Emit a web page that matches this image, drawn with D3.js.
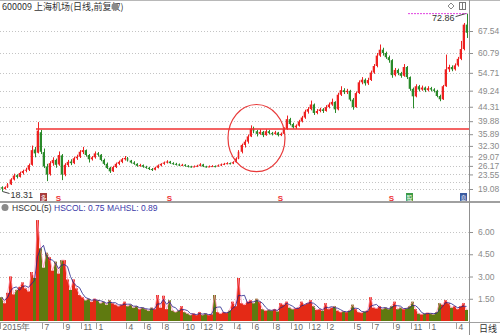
<!DOCTYPE html>
<html>
<head>
<meta charset="utf-8">
<script src="https://cdn.jsdelivr.net/npm/d3@7"></script>
<style>
  body { margin: 0; background: #fff; }
  svg { display: block; font-family: "Liberation Sans", Arial, "Noto Sans CJK SC", sans-serif; }
</style>
</head>
<body>
<svg width="500" height="335"></svg>
<script>
// price bars, [open, high, low, close]
const candles = [
  [19.6,19.9,18.31,19.2],[19.1,19.9,18.9,19.6],[19.6,20.9,19.4,20.5],[20.5,22.4,20.3,22.0],
  [22.0,23.8,21.7,23.2],[23.3,23.6,22.3,22.8],[22.8,24.4,22.6,24.0],[24.0,25.0,23.5,24.6],
  [24.7,25.6,24.2,25.0],[25.0,26.9,24.6,26.4],[26.5,32.4,26.2,31.0],[31.2,32.0,28.8,30.0],
  [30.2,39.6,30.0,37.0],[36.5,37.2,29.8,30.5],[30.4,31.5,25.5,26.0],[26.0,26.8,21.5,23.5],
  [23.6,27.6,23.2,27.0],[27.0,28.8,26.2,28.0],[28.0,28.4,25.6,26.5],[26.6,30.6,26.2,29.5],
  [29.4,29.8,21.8,23.5],[23.5,27.0,23.0,26.5],[26.4,28.0,25.8,27.4],[27.5,28.2,26.4,27.0],
  [27.0,29.0,26.7,28.5],[28.5,29.6,28.0,29.0],[29.0,31.0,28.6,30.5],[30.4,32.0,29.8,31.0],
  [31.0,31.2,29.0,29.5],[29.5,29.8,27.2,28.2],[28.2,29.2,27.8,28.8],[28.8,30.6,28.4,30.0],
  [30.0,30.4,29.0,29.6],[29.6,29.8,27.6,28.0],[28.0,28.4,26.4,26.8],[26.8,27.2,25.2,25.5],
  [25.6,25.9,24.0,24.5],[24.5,26.2,24.3,25.8],[25.8,27.2,25.5,26.8],[26.8,27.8,26.4,27.4],
  [27.4,28.6,27.0,28.2],[28.2,29.2,27.8,28.6],[28.6,28.9,27.5,27.8],[27.8,28.0,26.9,27.2],
  [27.2,27.6,26.5,26.8],[26.8,27.0,25.9,26.2],[26.2,26.8,25.9,26.4],[26.4,26.6,25.6,25.9],
  [25.9,26.2,25.3,25.6],[25.6,25.9,24.9,25.2],[25.2,25.5,24.6,25.0],[25.0,25.9,24.8,25.6],
  [25.6,26.6,25.4,26.3],[26.3,27.0,26.0,26.8],[26.8,27.5,26.5,27.2],[27.2,27.9,26.9,27.5],
  [27.5,27.7,26.8,27.0],[27.0,27.3,26.5,26.8],[26.8,27.1,26.3,26.6],[26.6,26.9,26.1,26.4],
  [26.4,26.8,26.1,26.5],[26.5,26.7,25.9,26.2],[26.2,26.4,25.7,26.0],[26.0,26.2,25.6,25.9],
  [25.9,26.3,25.7,26.0],[26.0,26.5,25.8,26.2],[26.2,27.0,26.0,26.6],[26.6,26.8,25.8,26.0],
  [26.0,26.2,25.6,25.9],[25.9,26.3,25.7,26.0],[26.0,26.4,25.8,26.1],[26.1,26.3,25.7,26.0],
  [26.0,26.6,25.9,26.3],[26.3,26.9,26.1,26.6],[26.6,27.1,26.4,26.8],[26.8,27.3,26.6,27.0],
  [27.0,27.2,26.6,26.9],[26.9,27.6,26.7,27.3],[27.3,28.8,27.1,28.4],[28.4,31.0,28.2,30.5],
  [30.5,33.0,30.0,32.6],[32.6,34.2,31.8,33.6],[33.6,35.8,33.0,35.2],[35.2,38.6,35.0,37.6],
  [37.6,38.2,36.2,36.8],[36.8,37.2,35.2,36.0],[36.0,37.4,35.7,36.6],[36.6,36.9,35.0,35.6],
  [35.6,37.4,35.4,36.8],[36.8,37.2,35.8,36.2],[36.2,36.6,35.5,36.0],[36.0,36.9,35.7,36.4],
  [36.4,36.6,35.2,35.6],[35.6,36.4,35.3,36.0],[36.0,38.0,35.8,37.5],[37.5,41.6,37.2,40.5],
  [40.5,40.9,38.6,39.0],[39.0,39.4,37.6,38.0],[38.0,38.9,37.5,38.5],[38.5,40.3,38.2,39.8],
  [39.8,41.5,39.5,41.0],[41.0,43.4,40.6,42.8],[42.8,44.2,42.2,43.6],[43.6,46.2,43.2,45.0],
  [45.0,45.3,41.8,42.4],[42.4,43.6,42.0,43.0],[43.0,44.0,42.6,43.5],[43.5,43.9,42.4,43.0],
  [43.0,44.8,42.8,44.2],[44.2,45.6,43.8,45.0],[45.0,46.8,44.6,45.8],[45.8,46.0,42.4,43.5],
  [43.5,48.6,43.2,48.0],[48.0,50.6,47.6,49.4],[49.4,50.0,48.2,48.8],[48.8,49.8,48.2,49.2],
  [49.2,49.5,46.0,46.5],[46.5,47.0,43.4,44.2],[44.2,49.0,44.0,48.5],[48.5,52.4,48.2,51.8],
  [51.8,53.4,51.2,52.6],[52.6,53.0,50.8,51.5],[51.5,53.2,51.0,52.5],[52.5,55.4,52.2,54.8],
  [54.8,57.4,54.4,56.8],[56.8,60.8,56.4,60.0],[60.0,63.4,59.6,61.8],[61.8,62.4,60.0,60.8],
  [60.8,61.2,59.0,59.5],[59.5,60.0,57.8,58.6],[58.6,58.9,53.2,54.0],[54.0,56.2,53.6,55.6],
  [55.6,56.0,54.0,54.6],[54.6,55.0,53.2,53.8],[53.8,57.4,53.5,56.5],[56.5,56.8,52.8,53.4],
  [53.4,53.6,49.2,49.8],[49.8,50.2,43.8,47.5],[47.5,51.2,47.2,50.6],[50.6,51.0,49.0,49.6],
  [49.6,50.8,49.2,50.2],[50.2,50.5,48.8,49.4],[49.4,50.6,49.0,50.0],[50.0,50.4,49.0,49.6],
  [49.6,50.0,48.7,49.2],[49.2,49.5,47.2,47.6],[47.6,48.0,46.0,46.6],[46.6,51.0,46.4,50.6],
  [50.6,60.3,50.4,55.8],[55.8,57.2,55.0,56.5],[56.5,57.0,55.2,55.8],[55.8,57.6,55.4,57.0],
  [57.0,59.6,56.6,59.0],[59.0,64.5,58.6,62.0],[62.0,70.0,61.6,69.5],[69.5,72.86,65.4,67.0]
];

// turnover (HSCOL), one per price bar
const turnover = [
  1.6,1.2,1.9,3.0,1.8,2.1,2.3,2.6,2.2,2.0,3.3,2.9,6.8,4.9,3.6,4.6,
  4.3,3.4,4.0,3.2,4.1,4.1,2.8,2.1,2.8,2.2,1.75,1.6,1.4,1.5,1.3,1.5,
  1.4,1.2,1.3,1.1,1.4,1.2,1.1,1.0,1.1,1.3,1.0,1.1,0.9,1.0,0.8,0.9,
  0.8,0.7,0.9,0.8,1.75,0.9,1.7,0.8,1.4,0.7,0.6,0.7,1.0,0.6,0.5,0.4,
  0.5,0.4,0.6,0.4,0.5,0.4,0.45,1.75,0.6,0.5,0.6,0.55,0.7,1.3,1.0,2.9,
  1.2,1.1,1.3,1.4,1.2,1.5,1.3,0.8,0.7,0.75,0.7,0.8,0.65,1.2,1.1,1.3,
  0.9,0.8,0.85,0.9,1.3,1.1,1.2,1.4,1.0,0.75,0.8,0.7,1.2,0.8,0.9,1.0,
  0.7,0.6,0.65,0.6,0.7,1.1,0.8,0.6,0.55,0.65,0.7,1.6,0.9,0.85,1.0,0.8,
  0.9,0.8,1.0,1.3,0.8,0.9,0.8,0.85,1.0,1.3,0.8,0.5,0.45,0.5,0.55,0.5,
  0.45,0.6,1.2,1.1,1.4,1.2,0.9,1.0,0.8,1.0,1.2,0.75
];

const priceTicks = [19.08, 23.55, 26.17, 29.07, 32.30, 35.89, 39.88, 44.31, 49.24, 54.71, 60.79, 67.54];
const priceGrid = [21.20].concat(priceTicks);
const turnoverTicks = [1.50, 3.00, 4.50, 6.00];

// month labels along the bottom, keyed to the bar where the month starts
const monthLabels = ['2015年','7','9','11','1','4','6','8','10','12','2','4','6','8','10','12','2','5','7','9','11','1','4'];
const monthBars   = [0,14,21,27,32,42,48,54,61,67,72,78,84,91,97,103,109,118,124,131,137,143,152];

// drawn annotations
const levelPrice = 37.5, levelFromBar = 12;
const circleBar = 85.5, circlePrice = 34.7;
const maxLineFromBar = 136;
const events = [
  { bar: 14, kind: 'box', color: '#a83c3c', txt: '多' },
  { bar: 19, kind: 's' }, { bar: 56, kind: 's' }, { bar: 93, kind: 's' }, { bar: 130, kind: 's' },
  { bar: 136, kind: 'box', color: '#3c9a46', txt: '股' },
  { bar: 154, kind: 'box', color: '#3a5aa0', txt: '息' }
];

const UP = '#ee2222', DOWN = '#2a8a2a';

const svg = d3.select('svg');
const plotRight = 469;

const x = d3.scaleLinear().domain([0, candles.length]).range([0, 468]);
const step = x(1) - x(0);
const y = d3.scaleLinear().domain([19.08, 67.54]).range([189, 31]);
const yv = d3.scaleLinear().domain([0, 6]).range([321, 232]);

// ---- frame
svg.append('line').attr('x1', 0).attr('x2', 500).attr('y1', 0.5).attr('y2', 0.5).attr('stroke', '#b8b8b8');
svg.append('line').attr('x1', 0).attr('x2', 500).attr('y1', 202).attr('y2', 202).attr('stroke', '#a0a0a0').attr('stroke-width', 2);
svg.append('line').attr('x1', 0).attr('x2', 500).attr('y1', 322.5).attr('y2', 322.5).attr('stroke', '#a0a0a0');
svg.append('line').attr('x1', plotRight + 0.5).attr('x2', plotRight + 0.5).attr('y1', 0).attr('y2', 335).attr('stroke', '#909090');

// ---- grids
svg.append('g').selectAll('line').data(priceGrid).join('line')
  .attr('x1', 0).attr('x2', plotRight).attr('y1', d => Math.round(y(d)) + 0.5).attr('y2', d => Math.round(y(d)) + 0.5)
  .attr('stroke', '#c4c4c4').attr('stroke-dasharray', '1,2');
svg.append('g').selectAll('line').data(turnoverTicks).join('line')
  .attr('x1', 0).attr('x2', plotRight).attr('y1', d => Math.round(yv(d)) + 0.5).attr('y2', d => Math.round(yv(d)) + 0.5)
  .attr('stroke', '#c4c4c4').attr('stroke-dasharray', '1,2');

// ---- right axes
function styleAxis(g) {
  g.select('.domain').remove();
  g.selectAll('.tick line').attr('stroke', '#909090');
  g.selectAll('.tick text').attr('fill', '#8a8a8a').attr('font-size', 8.5);
}
svg.append('g').attr('transform', `translate(${plotRight},0)`)
  .call(d3.axisRight(y).tickValues(priceTicks).tickFormat(d3.format('.2f')).tickSize(4).tickPadding(5))
  .call(styleAxis);
svg.append('g').attr('transform', `translate(${plotRight},0)`)
  .call(d3.axisRight(yv).tickValues(turnoverTicks).tickFormat(d3.format('.2f')).tickSize(4).tickPadding(5))
  .call(styleAxis);

// ---- bottom month axis
const xb = svg.append('g').attr('transform', 'translate(0,322)')
  .call(d3.axisBottom(x).tickValues(monthBars).tickFormat((d, i) => monthLabels[i]).tickSize(7).tickPadding(0));
xb.select('.domain').remove();
xb.selectAll('.tick line').attr('stroke', '#a0a0a0');
xb.selectAll('.tick text').attr('text-anchor', 'start').attr('x', 2).attr('y', 2)
  .attr('fill', '#666').attr('font-size', 8.5);
svg.append('text').attr('x', 479).attr('y', 332).attr('font-size', 9).attr('fill', '#333')
  .style('font-family', '"Noto Sans CJK SC", sans-serif').text('日线');

// ---- candles
const cg = svg.append('g');
candles.forEach(([o, h, l, c], i) => {
  const col = c >= o ? UP : DOWN;
  const cx = Math.round(x(i + 0.5)) + 0.5;
  cg.append('line').attr('x1', cx).attr('x2', cx).attr('y1', y(h)).attr('y2', y(l)).attr('stroke', col).attr('stroke-width', 1);
  cg.append('rect').attr('x', x(i) + 0.7).attr('width', step - 1.4)
    .attr('y', y(Math.max(o, c))).attr('height', Math.max(1, Math.abs(y(o) - y(c))))
    .attr('fill', col);
});

// ---- annotations on the price panel
svg.append('line').attr('x1', x(levelFromBar)).attr('x2', plotRight)
  .attr('y1', y(levelPrice)).attr('y2', y(levelPrice))
  .attr('stroke', '#f03030').attr('stroke-width', 1.6);
svg.append('ellipse').attr('cx', x(circleBar)).attr('cy', y(circlePrice))
  .attr('rx', x(9.5) - x(0)).attr('ry', y(circlePrice - 10.3) - y(circlePrice))
  .attr('fill', 'none').attr('stroke', '#e83a3a').attr('stroke-width', 1.2);

const hiIdx = d3.maxIndex(candles, d => d[1]);
const hi = candles[hiIdx][1];
const loIdx = d3.minIndex(candles, d => d[2]);
const lo = candles[loIdx][2];
svg.append('line').attr('x1', x(maxLineFromBar)).attr('x2', x(candles.length))
  .attr('y1', y(hi)).attr('y2', y(hi)).attr('stroke', '#e040e0').attr('stroke-dasharray', '2,1').attr('stroke-width', 1);
svg.append('line').attr('x1', x(hiIdx + 0.5) - 1).attr('y1', y(hi))
  .attr('x2', x(hiIdx + 0.5) - 11).attr('y2', y(hi) + 3).attr('stroke', '#444');
svg.append('text').attr('x', x(hiIdx + 0.5) - 12).attr('y', y(hi) + 7).attr('text-anchor', 'end')
  .attr('font-size', 9).attr('fill', '#333').text(d3.format('.2f')(hi));
svg.append('line').attr('x1', x(loIdx + 0.5) + 1).attr('y1', y(lo))
  .attr('x2', x(loIdx + 0.5) + 8).attr('y2', y(lo) + 2).attr('stroke', '#444');
svg.append('text').attr('x', x(loIdx + 0.5) + 9).attr('y', y(lo) + 6)
  .attr('font-size', 9).attr('fill', '#333').text(d3.format('.2f')(lo));

// event markers along the bottom of the price panel
events.forEach(e => {
  const ex = x(e.bar + 0.5);
  if (e.kind === 'box') {
    svg.append('rect').attr('x', ex - 3.5).attr('y', 193).attr('width', 7).attr('height', 8).attr('fill', e.color);
    svg.append('text').attr('x', ex).attr('y', 199.5).attr('text-anchor', 'middle').attr('font-size', 6)
      .attr('fill', '#fff').style('font-family', '"Noto Sans CJK SC", sans-serif').text(e.txt);
  } else {
    svg.append('text').attr('x', ex).attr('y', 200.5).attr('text-anchor', 'middle').attr('font-size', 8)
      .attr('font-weight', 'bold').attr('fill', '#e33').text('S');
  }
});

// ---- titles and icons
svg.append('text').attr('x', 2).attr('y', 10).attr('font-size', 9).attr('fill', '#333')
  .style('font-family', '"Noto Sans CJK SC", sans-serif').text('600009 上海机场(日线,前复权)');
svg.append('circle').attr('cx', 115).attr('cy', 6.5).attr('r', 3.5).attr('fill', '#8a8a8a');
svg.append('path').attr('d', 'M451,3 L454,6 L451,9 L448,6 Z').attr('fill', 'none').attr('stroke', '#888');
svg.append('rect').attr('x', 459.5).attr('y', 2.5).attr('width', 6).attr('height', 7).attr('fill', 'none').attr('stroke', '#777');
svg.append('line').attr('x1', 462.5).attr('x2', 462.5).attr('y1', 3).attr('y2', 9).attr('stroke', '#777');

svg.append('circle').attr('cx', 5).attr('cy', 207.5).attr('r', 3.5).attr('fill', '#8a8a8a');
svg.append('text').attr('x', 12).attr('y', 211).attr('font-size', 8.5).attr('fill', '#333').text('HSCOL(5)');
const ma = turnover.map((v, i) => d3.mean(turnover.slice(Math.max(0, i - 2), i + 1)));
svg.append('text').attr('x', 54).attr('y', 211).attr('font-size', 8.5).attr('fill', '#3a3aa8')
  .text(`HSCOL: ${d3.format('.2f')(turnover[turnover.length - 1])} MAHSL: 0.89`);

// ---- turnover bars
svg.append('g').selectAll('rect').data(turnover).join('rect')
  .attr('x', (d, i) => x(i)).attr('width', step)
  .attr('y', d => yv(d)).attr('height', d => yv(0) - yv(d))
  .attr('fill', (d, i) => candles[i][3] >= candles[i][0] ? '#e42a16' : '#5f7a10');

const vline = d3.line().x((d, i) => x(i + 0.5)).y(d => yv(d));
svg.append('path').datum(turnover).attr('d', vline).attr('fill', 'none').attr('stroke', '#ff8aa8').attr('stroke-width', 0.8);
svg.append('path').datum(ma).attr('d', vline).attr('fill', 'none').attr('stroke', '#22228a').attr('stroke-width', 0.8);
</script>
</body>
</html>
